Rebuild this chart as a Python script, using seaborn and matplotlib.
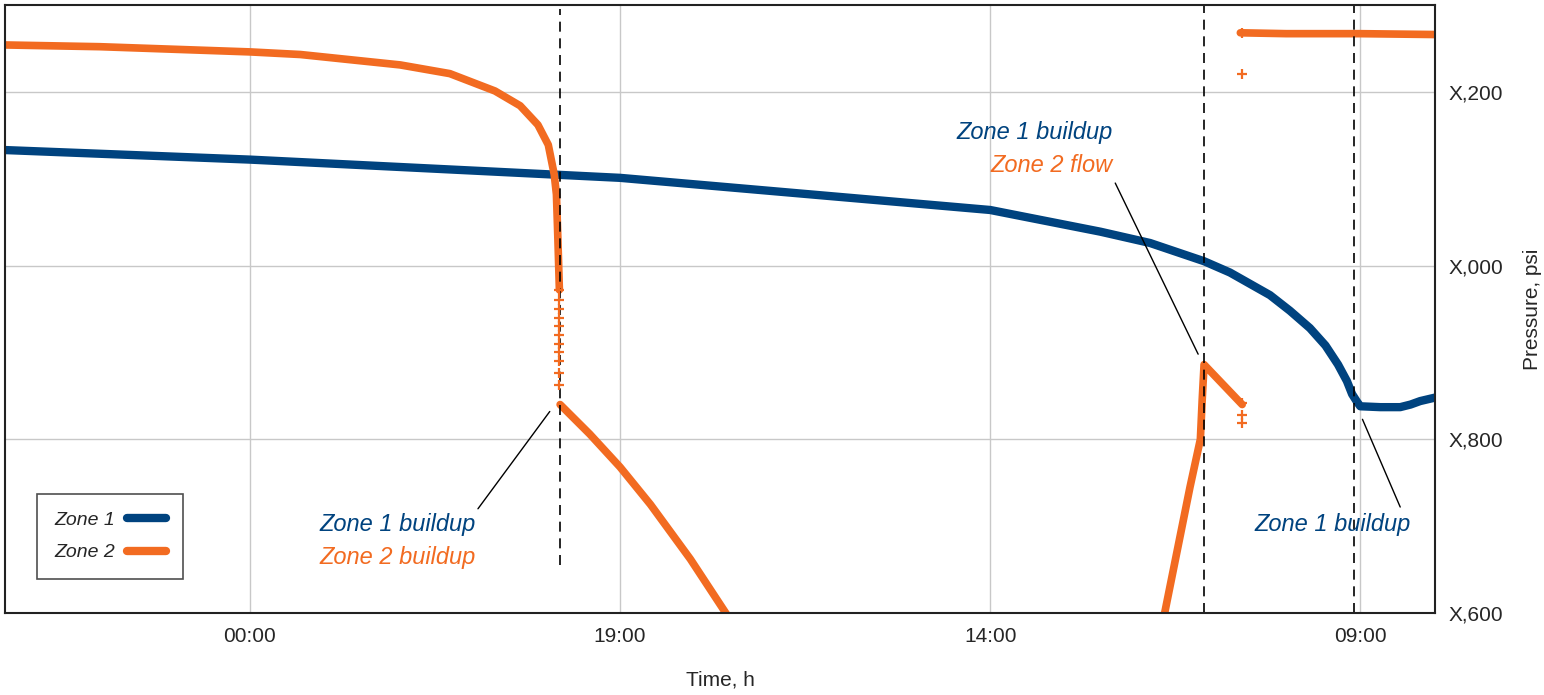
# Zone pressure history (mirrored layout: time runs right to left, pressure axis on the right)

import numpy as np
import pandas as pd
import seaborn as sns
import matplotlib.pyplot as plt
from matplotlib.lines import Line2D

# zone 1 pressure, time in hours (24+ = next day)
zone1_time = [7.99, 8.19, 8.32, 8.46, 8.73, 9.0, 9.05, 9.11, 9.18, 9.30, 9.47, 9.68, 9.95,
              10.22, 10.76, 11.11, 11.84, 12.51, 14.0, 19.0, 24.0, 27.31]
zone1_psi = [848, 844, 840, 837, 837, 838, 844, 852, 867, 886, 908, 928, 948,
             966, 992, 1005, 1026, 1039, 1064, 1101, 1122, 1133]

# zone 2 pressure, split into the pieces that are drawn as lines
zone2_a_time = [19.82, 19.84, 19.86, 19.89, 19.97, 20.11, 20.35, 20.69, 21.30, 21.97,
                23.32, 24.0, 26.03, 27.31]
zone2_a_psi = [972, 1030, 1082, 1105, 1139, 1162, 1184, 1201, 1221, 1231,
               1243, 1246, 1252, 1254]
zone2_b_time = [17.38, 17.58, 18.05, 18.59, 19.0, 19.41, 19.81]
zone2_b_psi = [575, 601, 662, 725, 768, 806, 840]
zone2_c_time = [10.595, 11.11, 11.135, 11.16, 11.30, 11.43, 11.64, 11.70]
zone2_c_psi = [840, 886, 846, 800, 745, 690, 601, 570]
zone2_d_time = [7.99, 9.0, 10.0, 10.62]
zone2_d_psi = [1266, 1267, 1267, 1268]

# scattered zone 2 readings (drawn as + markers)
zone2_pts_time = [10.60, 10.60, 10.60, 10.60, 10.60,
                  19.82, 19.82, 19.82, 19.82, 19.82, 19.82, 19.82, 19.82, 19.82, 19.82, 19.82]
zone2_pts_psi = [1268, 1220, 842, 828, 819,
                 972, 960, 950, 940, 930, 920, 910, 900, 890, 876, 863]

# event markers and axis ticks
event_times = [19.81, 11.11, 9.08]
x_ticks = [9, 14, 19, 24]
x_labels = ["09:00", "14:00", "19:00", "00:00"]
y_ticks = [600, 800, 1000, 1200]
y_labels = ["X,600", "X,800", "X,000", "X,200"]

blue = "#00437f"
orange = "#f26b21"

sns.set_style("white")
plt.rcParams["font.family"] = ["Liberation Sans Narrow", "Liberation Sans", "DejaVu Sans"]

fig = plt.figure(figsize=(15.44, 6.95), dpi=100)
ax = fig.add_axes([5 / 1544, 82 / 695, 1430 / 1544, 608 / 695])

# grid first so curves sit on top
ax.grid(True, color="#c8c8c8", linewidth=1)
ax.set_axisbelow(True)

sns.lineplot(x=zone1_time, y=zone1_psi, color=blue, linewidth=6, sort=False, ax=ax)
for t, p in [(zone2_a_time, zone2_a_psi), (zone2_b_time, zone2_b_psi),
             (zone2_c_time, zone2_c_psi), (zone2_d_time, zone2_d_psi)]:
    sns.lineplot(x=t, y=p, color=orange, linewidth=5.5, sort=False, ax=ax)
sns.scatterplot(x=zone2_pts_time, y=zone2_pts_psi, color=orange, marker="+",
                s=60, linewidth=1.6, ax=ax, zorder=4)

# event lines
ax.vlines(event_times[0], 655, 1295, colors="black", linestyles=(0, (6, 4)), linewidth=1.2)
ax.vlines(event_times[1:], 600, 1300, colors="black", linestyles=(0, (6, 4)), linewidth=1.2)

# annotations
txt = dict(fontsize=17, style="italic", va="center")
ax.text(22.01, 702, "Zone 1 buildup", color=blue, ha="center", **txt)
ax.text(22.01, 664, "Zone 2 buildup", color=orange, ha="center", **txt)
ax.plot([20.92, 19.95], [720, 832], color="black", linewidth=1)

ax.text(12.34, 1153, "Zone 1 buildup", color=blue, ha="right", **txt)
ax.text(12.34, 1115, "Zone 2 flow", color=orange, ha="right", **txt)
ax.plot([12.31, 11.19], [1095, 898], color="black", linewidth=1)

ax.text(9.38, 702, "Zone 1 buildup", color=blue, ha="center", **txt)
ax.plot([8.46, 8.97], [722, 823], color="black", linewidth=1)

ax.set_xlim(27.31, 7.99)
ax.set_ylim(600, 1300)
ax.set_xticks(x_ticks)
ax.set_xticklabels(x_labels)
ax.set_yticks(y_ticks)
ax.set_yticklabels(y_labels)
ax.yaxis.tick_right()
ax.yaxis.set_label_position("right")
ax.tick_params(length=0, labelsize=15, pad=10)
ax.set_xlabel("Time, h", fontsize=15, labelpad=18)
ax.set_ylabel("Pressure, psi", fontsize=15, labelpad=14)

for s in ax.spines.values():
    s.set_visible(True)
    s.set_color("#222222")
    s.set_linewidth(1.5)

handles = [Line2D([], [], color=blue, linewidth=6), Line2D([], [], color=orange, linewidth=6)]
leg = ax.legend(handles, ["Zone 1", "Zone 2"], loc="lower left", bbox_to_anchor=(0.0224, 0.056),
                borderaxespad=0, markerfirst=False, frameon=True, fancybox=False,
                edgecolor="#222222", prop={"style": "italic", "size": 14},
                handlelength=2.0, handletextpad=0.6, borderpad=0.9, labelspacing=0.75)
leg.get_frame().set_linewidth(1.2)

plt.savefig("out.png", dpi=100)
